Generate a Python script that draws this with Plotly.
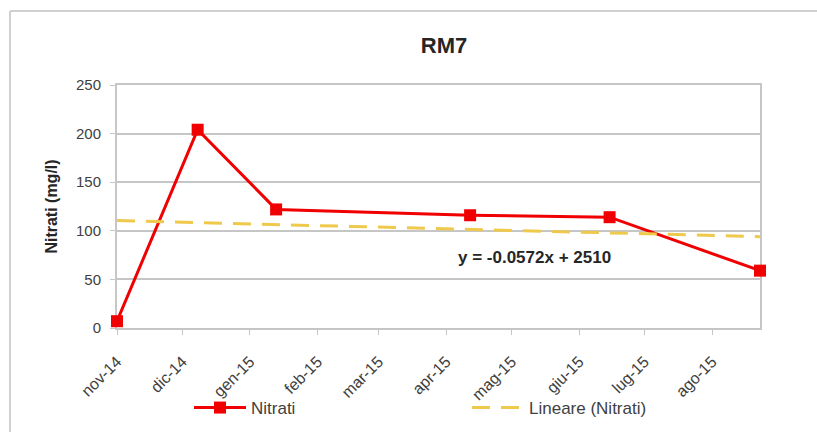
import plotly.graph_objects as go

# ---- data ----
sample_dates = ["2014-11-01", "2014-12-08", "2015-01-13", "2015-04-12", "2015-06-15", "2015-08-23"]
nitrati = [7, 204, 122, 116, 114, 59]

trend_dates = ["2014-11-01", "2015-08-23"]
trend_values = [110.5, 94]

tick_dates = ["2014-11-01", "2014-12-01", "2015-01-01", "2015-02-01", "2015-03-01",
              "2015-04-01", "2015-05-01", "2015-06-01", "2015-07-01", "2015-08-01"]
tick_labels = ["nov-14", "dic-14", "gen-15", "feb-15", "mar-15",
               "apr-15", "mag-15", "giu-15", "lug-15", "ago-15"]

y_ticks = [0, 50, 100, 150, 200, 250]

FONT = "Liberation Sans"
TXT = "#404040"
DARK = "#262626"
GRID = "#c6c6c6"

fig = go.Figure()

fig.add_trace(go.Scatter(
    x=sample_dates, y=nitrati, name="Nitrati", mode="lines+markers",
    line=dict(color="#f00000", width=3),
    marker=dict(symbol="square", size=12, color="#f00000"),
    cliponaxis=False, legend="legend",
))
fig.add_trace(go.Scatter(
    x=trend_dates, y=trend_values, name="Lineare (Nitrati)", mode="lines",
    line=dict(color="#efc94c", width=3, dash="18px,11px"),
    legend="legend2",
))

leg_common = dict(orientation="h", xanchor="left", yanchor="middle",
                  xref="container", yref="container",
                  y=1 - 408 / 432, bgcolor="rgba(0,0,0,0)", itemwidth=52,
                  font=dict(family=FONT, size=17, color=TXT))

fig.update_layout(
    width=817, height=432,
    margin=dict(l=117, r=57, t=85, b=104),
    paper_bgcolor="white", plot_bgcolor="white",
    font=dict(family=FONT, size=15, color=TXT),
    title=dict(text="<b>RM7</b>", x=444 / 817, xanchor="center",
               y=1 - 45 / 432, yanchor="middle",
               font=dict(family=FONT, size=22, color=DARK)),
    showlegend=True,
    legend=dict(x=189 / 817, **leg_common),
    legend2=dict(x=467 / 817, **leg_common),
    xaxis=dict(
        type="date", range=["2014-11-01", "2015-08-23"], automargin=False,
        tickmode="array", tickvals=tick_dates, ticktext=tick_labels,
        tickangle=-45, ticks="outside", ticklen=5, tickcolor=GRID,
        ticklabelstandoff=11,
        showgrid=False, zeroline=False, layer="below traces",
        showline=True, linecolor=GRID, linewidth=2, mirror=True,
        tickfont=dict(family=FONT, size=16, color=TXT),
    ),
    yaxis=dict(
        range=[0, 250], tickmode="array", tickvals=y_ticks, automargin=False,
        ticks="outside", ticklen=5, tickcolor=GRID, ticklabelstandoff=6,
        showgrid=True, gridcolor=GRID, gridwidth=2, zeroline=False,
        layer="below traces",
        showline=True, linecolor=GRID, linewidth=2, mirror=True,
        tickfont=dict(family=FONT, size=15, color=TXT),
        title=dict(text="<b>Nitrati (mg/l)</b>", standoff=14,
                   font=dict(family=FONT, size=16, color=DARK)),
    ),
)

fig.add_annotation(
    text="<b>y = -0.0572x + 2510</b>", xref="paper", yref="paper",
    x=(534 - 117) / 643, y=(328 - 257) / 243, xanchor="center", yanchor="middle",
    showarrow=False, font=dict(family=FONT, size=17, color=DARK),
)

# outer chart frame (left and top edges visible)
fx0 = (10 - 117) / 643
fy_top = (328 - 11) / 243
fig.add_shape(type="line", xref="paper", yref="paper", x0=fx0, x1=fx0,
              y0=fy_top, y1=(328 - 440) / 243, line=dict(color="#d0d0d0", width=2))
fig.add_shape(type="line", xref="paper", yref="paper", x0=fx0, x1=(830 - 117) / 643,
              y0=fy_top, y1=fy_top, line=dict(color="#d0d0d0", width=2))

fig.write_html("out.html", config={"displayModeBar": False},
               post_script="document.body.style.margin='0';document.body.style.overflow='hidden';")
